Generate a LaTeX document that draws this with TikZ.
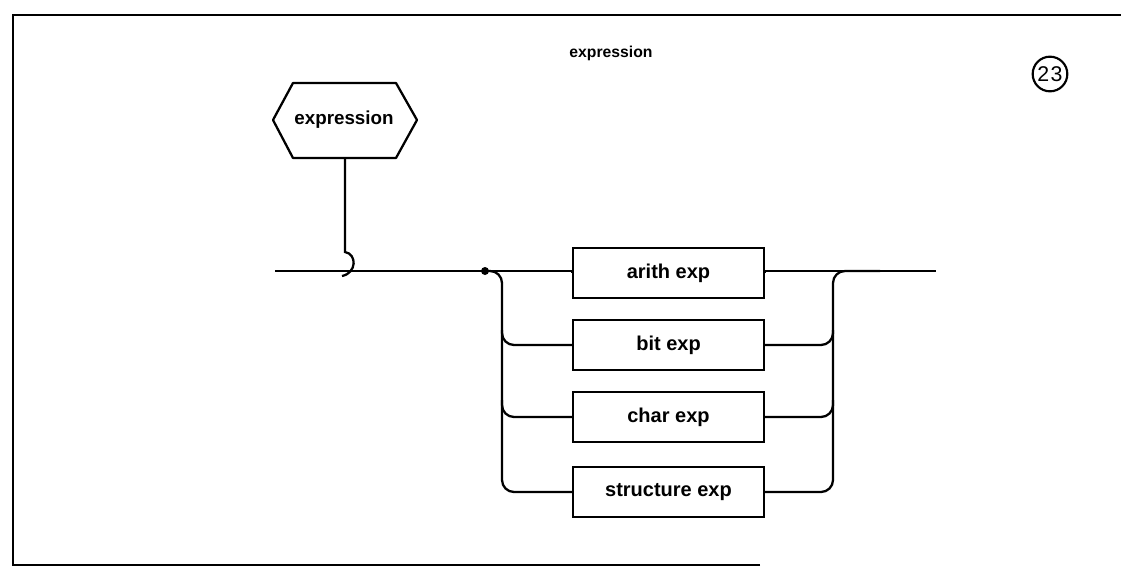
\documentclass[tikz,border=0pt]{standalone}
\usepackage{fontspec}
\setmainfont{Liberation Sans}
\begin{document}
\begin{tikzpicture}[x=0.75pt,y=-0.75pt,
  line/.style={line width=1.7pt},
  frame/.style={line width=2pt},
  box/.style={draw,line width=1.7pt,minimum width=143pt,minimum height=37.5pt,inner sep=0pt,font=\bfseries\fontsize{15}{17}\selectfont},
  lbl/.style={font=\bfseries\fontsize{14.1}{16}\selectfont},
  rc/.style={rounded corners=9pt}]
\useasboundingbox (0,0) rectangle (1121,571);
% frame
\draw[frame] (760,565) -- (13,565) -- (13,15) -- (1121,15);
% title and number
\node[font=\bfseries\fontsize{11.8}{13}\selectfont] (title) at (611,53) {expression};
\node[draw,circle,line width=1.6pt,inner sep=0pt,minimum size=26pt,font=\fontsize{16}{18}\selectfont] (num) at (1050,74) {2\kern1pt3};
% hexagon
\node[lbl] (hex) at (344,120) {expression};
\draw[line,line join=round] (273,120) -- (293,83) -- (396,83) -- (417,120) -- (396,158) -- (293,158) -- cycle;
\coordinate (hexb) at (345,158);
\coordinate (hook) at (345,252);
\draw[line] (hexb) -- (hook) .. controls (357,254) and (357,273) .. (342,276);
% main line
\coordinate (in) at (275,271);
\coordinate (dot) at (485,271);
\coordinate (out) at (936,271);
\node[box] (arith) at (668.5,273) {arith exp};
\node[box] (bit) at (668.5,345) {bit exp};
\node[box] (char) at (668.5,417) {char exp};
\node[box] (struct) at (668.5,492) {structure exp};
\draw[line] (in) -- (dot) -- (arith.west |- dot) -- (arith.west);
\fill (dot) circle (3pt);
% left rail
\draw[line,rc] (dot) -- (502,271) -- (502,492) -- (struct.west);
\draw[line,rc] (502,330) -- (502,345) -- (bit.west);
\draw[line,rc] (502,400) -- (502,417) -- (char.west);
% right rail
\draw[line] (arith.east) -- (arith.east |- out) -- (out);
\draw[line,rc] (struct.east) -- (833,492) -- (833,271) -- (880,271);
\draw[line,rc] (bit.east) -- (833,345) -- (833,330);
\draw[line,rc] (char.east) -- (833,417) -- (833,400);
\end{tikzpicture}
\end{document}
